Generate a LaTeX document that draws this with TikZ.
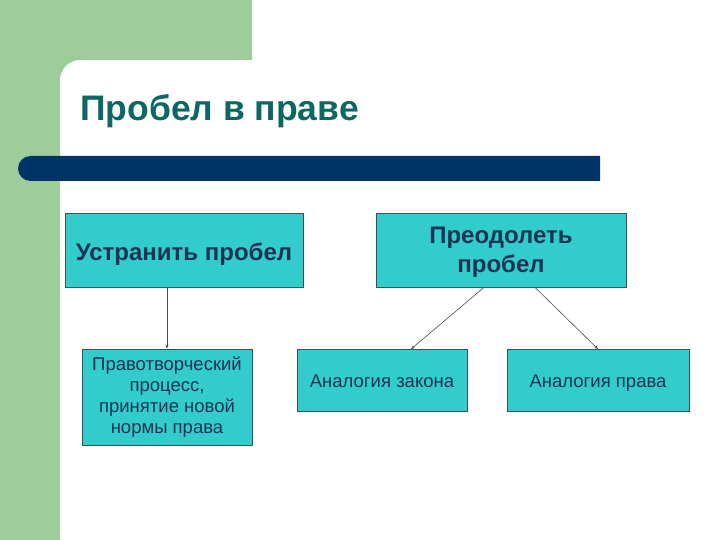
\documentclass[tikz,border=0pt]{standalone}
\usepackage{fontspec}
\setmainfont{Liberation Sans}
\usetikzlibrary{arrows.meta}

\definecolor{leafgreen}{RGB}{158,204,154}
\definecolor{titleteal}{RGB}{14,104,98}
\definecolor{barblue}{RGB}{0,51,102}
\definecolor{boxfill}{RGB}{51,204,204}
\definecolor{boxtext}{RGB}{24,52,82}
\definecolor{boxline}{RGB}{60,80,90}

\tikzset{
    box/.style={draw=boxline,line width=0.8pt,fill=boxfill,text=boxtext,align=center,inner sep=2pt},
    mainbox/.style={box,minimum width=238pt,minimum height=74pt,font=\fontsize{24}{29}\selectfont\bfseries},
    subbox/.style={box,minimum height=62pt,font=\fontsize{18.5}{21}\selectfont},
    oneline/.style={text height=17pt,text depth=4pt},
    link/.style={draw=boxline,line width=0.6pt,-{Stealth[length=4pt,width=3pt]}}
}

\begin{document}
\begin{tikzpicture}[x=1pt,y=-1pt]
        \useasboundingbox (0,0) rectangle (720,540);
        % background
        \fill[leafgreen] (0,0) -- (252,0) -- (252,60) -- (80,60)
            .. controls (69,60) and (60,69) .. (60,80) -- (60,540) -- (0,540) -- cycle;
        \fill[barblue] (30.5,156) .. controls (23.6,156) and (18,161.6) .. (18,168.5)
            .. controls (18,175.4) and (23.6,181) .. (30.5,181) -- (600,181) -- (600,156) -- cycle;
        \node[anchor=base west,text=titleteal,font=\fontsize{35.5}{42}\selectfont\bfseries,inner sep=0pt] (title) at (80,121) {Пробел в праве};

        % boxes
        \node[mainbox,text height=20pt,text depth=0pt] (ustr) at (184,250) {Устранить пробел};
        \node[mainbox,text depth=0pt,minimum width=250pt] (preod) at (501,250) {Преодолеть\\пробел};
        \node[subbox,minimum width=170pt,minimum height=96pt] (pravotv) at (167,397) {Правотворческий\\процесс,\\принятие новой\\нормы права};
        \node[subbox,oneline,minimum width=170pt] (zakon) at (382,380.5) {Аналогия закона};
        \node[subbox,oneline,minimum width=182pt] (prava) at (598,380.5) {Аналогия права};

        % arrows
        \draw[link] (ustr.south -| pravotv.north) -- (pravotv.north);
        \draw[link] ([xshift=-17pt]preod.south) -- ([xshift=29pt]zakon.north);
        \draw[link] ([xshift=34pt]preod.south) -- (prava.north);
    \end{tikzpicture}
\end{document}
